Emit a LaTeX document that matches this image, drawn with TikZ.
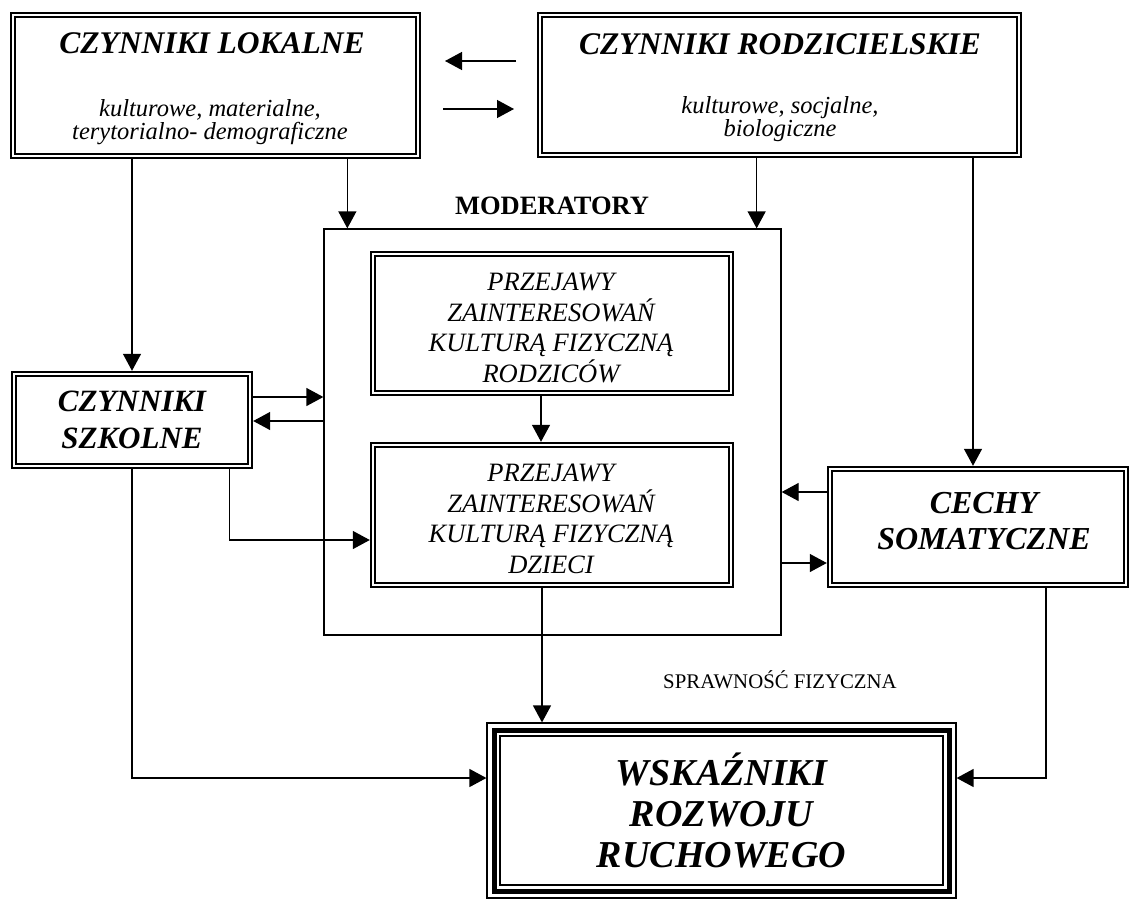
\documentclass[tikz,border=0pt]{standalone}
\usepackage{fontspec}
\setmainfont{Liberation Serif}
\usetikzlibrary{arrows.meta}
\newcommand{\fntTitle}{\fontsize{31.5}{36}\selectfont\bfseries\itshape}
\newcommand{\fntSub}{\fontsize{24.5}{23}\selectfont\itshape}
\newcommand{\fntPrz}{\fontsize{26.5}{30.5}\selectfont\itshape}
\newcommand{\fntSzk}{\fontsize{31}{37}\selectfont\bfseries\itshape}
\newcommand{\fntCech}{\fontsize{32}{36}\selectfont\bfseries\itshape}
\newcommand{\fntWsk}{\fontsize{38}{41}\selectfont\bfseries\itshape}
\newcommand{\fntMod}{\fontsize{26.5}{30}\selectfont\bfseries}
\newcommand{\fntSpr}{\fontsize{20.8}{24}\selectfont}
\begin{document}
\begin{tikzpicture}[x=1pt,y=-1pt,
  dbox/.style={draw, line width=2.4pt, inner sep=0pt, align=center,
    path picture={\draw[line width=1.2pt]
      ([shift={(4pt,-4pt)}]path picture bounding box.north west) rectangle
      ([shift={(-4pt,4pt)}]path picture bounding box.south east);}},
  tbox/.style={draw, line width=1.2pt, inner sep=0pt, align=center,
    path picture={\draw[line width=5pt]
      ([shift={(7pt,-7pt)}]path picture bounding box.north west) rectangle
      ([shift={(-7pt,7pt)}]path picture bounding box.south east);
      \draw[line width=1.2pt]
      ([shift={(13pt,-13pt)}]path picture bounding box.north west) rectangle
      ([shift={(-13pt,13pt)}]path picture bounding box.south east);}},
  mbox/.style={draw, line width=1.3pt, inner sep=0pt},
  conn/.style={line width=1.3pt, -{Triangle[length=17pt,width=18pt]}},
  plain/.style={inner sep=0pt, align=center}
]
\useasboundingbox[fill=white] (0,0) rectangle (1132,900);

% boxes
\node[dbox, minimum width=409pt, minimum height=145pt] (lok) at (215.5,85.5) {};
\node[dbox, minimum width=483pt, minimum height=144pt] (rod) at (779.5,85) {};
\node[mbox, minimum width=457pt, minimum height=406pt] (mod) at (552.5,432) {};
\node[dbox, minimum width=362pt, minimum height=143pt] (prz1) at (552,323.5) {};
\node[dbox, minimum width=362pt, minimum height=144pt] (prz2) at (552,515) {};
\node[dbox, minimum width=240pt, minimum height=96pt, font=\fntSzk] (szk) at (132,420)
  {CZYNNIKI\\SZKOLNE};
\node[dbox, minimum width=300pt, minimum height=120pt] (cechy) at (978,527) {};
\node[tbox, minimum width=469pt, minimum height=175pt, font=\fntWsk] (wsk) at (721.5,810.5)
  {WSKAŹNIKI\\ROZWOJU\\RUCHOWEGO};

% texts
\node[plain, font=\fntTitle] (lokT) at (212,43) {CZYNNIKI LOKALNE};
\node[plain, font=\fntSub] (lokS) at (210,122) {kulturowe, materialne,\\terytorialno- demograficzne};
\node[plain, font=\fntTitle] (rodT) at (780,44) {CZYNNIKI RODZICIELSKIE};
\node[plain, font=\fntSub] (rodS) at (780,119) {kulturowe, socjalne,\\biologiczne};
\node[plain, font=\fntMod] (modL) at (552,206) {MODERATORY};
\node[plain, font=\fntSpr] (spr) at (780,680) {SPRAWNOŚĆ FIZYCZNA};
\node[plain, font=\fntPrz] (prz1T) at (551,328)
  {PRZEJAWY\\ZAINTERESOWAŃ\\KULTURĄ FIZYCZNĄ\\RODZICÓW};
\node[plain, font=\fntPrz] (prz2T) at (551,519)
  {PRZEJAWY\\ZAINTERESOWAŃ\\KULTURĄ FIZYCZNĄ\\DZIECI};
\node[plain, font=\fntCech] (cechyT) at (984,521) {CECHY\\SOMATYCZNE};

% free arrows between the top boxes
\coordinate (aA) at (516,61);
\coordinate (aB) at (445,61);
\coordinate (aC) at (443,109);
\coordinate (aD) at (514,109);
\draw[conn] (aA) -- (aB);
\draw[conn] (aC) -- (aD);

% helper coordinates
\coordinate (m1) at ([xshift=24pt]mod.north west);
\coordinate (m2) at ([xshift=-25pt]mod.north east);
\coordinate (c1) at ([xshift=-5pt]cechy.north);
\coordinate (s1) at ([yshift=23pt]szk.east);
\coordinate (s2) at ([yshift=-1pt]szk.east);
\coordinate (s3) at ([xshift=-24pt]szk.south east);
\coordinate (q2) at ([yshift=-25pt]prz2.west);
\coordinate (e1) at ([yshift=35pt]cechy.west);
\coordinate (e2) at ([yshift=-36pt]cechy.west);
\coordinate (p1) at ([xshift=-11pt]prz1.south);
\coordinate (p2) at ([xshift=-10pt]prz2.south);
\coordinate (wL) at ([yshift=32.5pt]wsk.west);
\coordinate (wR) at ([yshift=32.5pt]wsk.east);
\coordinate (cB) at ([xshift=68pt]cechy.south);

% connectors
\draw[conn] (szk.north |- lok.south) -- (szk.north);
\draw[conn] (m1 |- lok.south) -- (m1);
\draw[conn] (m2 |- rod.south) -- (m2);
\draw[conn] (c1 |- rod.south) -- (c1);
\draw[conn] (s1) -- (s1 -| mod.west);
\draw[conn] (s2 -| mod.west) -- (s2);
\draw[conn] (s3) |- (q2);
\draw[conn] (p1) -- (p1 |- prz2.north);
\draw[conn] (e1) -- (e1 -| mod.east);
\draw[conn] (e2 -| mod.east) -- (e2);
\draw[conn] (p2) -- (p2 |- wsk.north);
\draw[conn] (szk.south) |- (wL);
\draw[conn] (cB) |- (wR);
\end{tikzpicture}
\end{document}
